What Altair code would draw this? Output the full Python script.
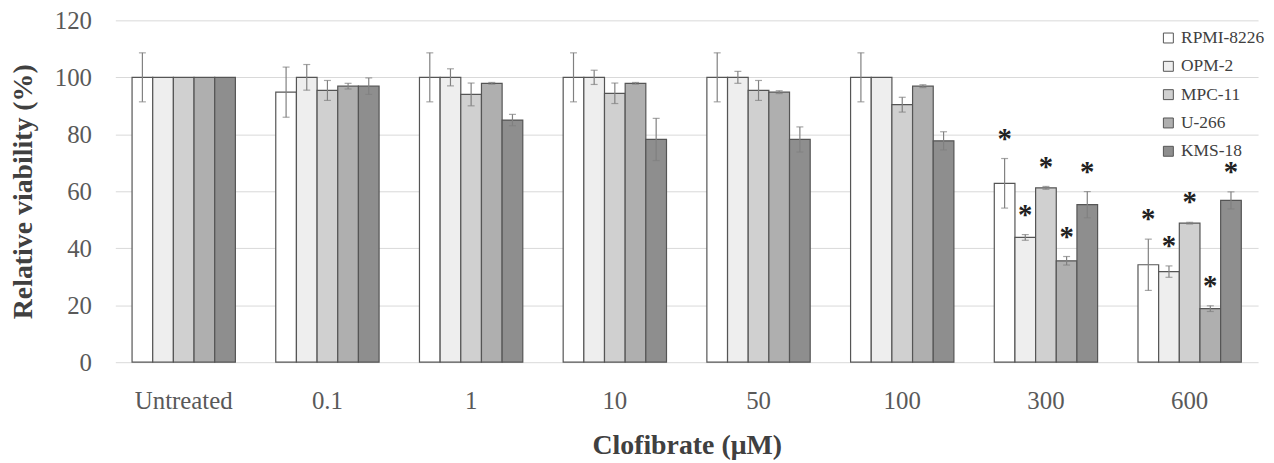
import altair as alt
import pandas as pd

concentrations = ["Untreated", "0.1", "1", "10", "50", "100", "300", "600"]
cell_lines = ["RPMI-8226", "OPM-2", "MPC-11", "U-266", "KMS-18"]
colors = ["#ffffff", "#eeeeee", "#d0d0d0", "#afafaf", "#8e8e8e"]

rpmi_mean = [100, 94.8, 100, 100, 100, 100, 62.8, 34.2]
rpmi_err = [8.6, 8.8, 8.6, 8.6, 8.6, 8.6, 8.7, 9.0]
opm_mean = [100, 100, 100, 100, 100, 100, 43.8, 31.8]
opm_err = [0, 4.5, 3.0, 2.5, 2.1, 0, 1.0, 2.0]
mpc_mean = [100, 95.4, 94.0, 94.4, 95.4, 90.4, 61.2, 48.8]
mpc_err = [0, 3.5, 4.0, 3.6, 3.5, 2.6, 0.5, 0.3]
u266_mean = [100, 96.9, 97.9, 97.9, 94.8, 96.9, 35.6, 18.8]
u266_err = [0, 1.0, 0.3, 0.3, 0.5, 0.5, 1.5, 1.0]
kms_mean = [100, 96.9, 85.0, 78.2, 78.2, 77.7, 55.3, 56.8]
kms_err = [0, 2.9, 2.0, 7.4, 4.4, 3.2, 4.6, 3.0]
significant = [False, False, False, False, False, False, True, True]

means = [rpmi_mean, opm_mean, mpc_mean, u266_mean, kms_mean]
errs = [rpmi_err, opm_err, mpc_err, u266_err, kms_err]

rows = []
for s, name in enumerate(cell_lines):
    for i, c in enumerate(concentrations):
        rows.append({"conc": c, "line": name, "mean": means[s][i],
                     "err": errs[s][i], "sig": significant[i]})
df = pd.DataFrame(rows)

FONT = "Liberation Serif"
YTITLE = "Relative viability (%)"

x = alt.X("conc:N", sort=concentrations,
          scale=alt.Scale(paddingInner=0.281, paddingOuter=0.1165),
          axis=alt.Axis(title="Clofibrate (μM)", labelAngle=0, labelFontSize=25,
                        labelPadding=27, ticks=False, domain=False, grid=False,
                        titlePadding=18))
xo = alt.XOffset("line:N", sort=cell_lines,
                 scale=alt.Scale(paddingInner=0, paddingOuter=0))
yscale = alt.Scale(domain=[0, 120])
yaxis = alt.Axis(values=[0, 20, 40, 60, 80, 100, 120], labelFontSize=25,
                 labelPadding=24, ticks=False, domain=False, grid=True,
                 titlePadding=17)

base = alt.Chart(df)

bars = base.mark_bar(stroke="#555555", strokeWidth=1.2).encode(
    x=x, xOffset=xo,
    y=alt.Y("mean:Q", scale=yscale, axis=yaxis, title=YTITLE),
    color=alt.Color("line:N", sort=cell_lines,
                    scale=alt.Scale(domain=cell_lines, range=colors),
                    legend=alt.Legend(title=None, orient="none", legendX=1051,
                                      legendY=9, symbolType="square",
                                      symbolSize=100, symbolStrokeColor="#555555",
                                      symbolStrokeWidth=1, labelFontSize=17.5,
                                      labelFont=FONT, labelColor="#404040",
                                      rowPadding=9.5, labelOffset=4, padding=0)),
)

errdata = base.transform_filter("datum.err > 0").transform_calculate(
    lo="datum.mean - datum.err", hi="datum.mean + datum.err")

rule = errdata.mark_rule(color="#808080", strokeWidth=1.2).encode(
    x=x, xOffset=xo,
    y=alt.Y("lo:Q", scale=yscale, title=YTITLE), y2="hi:Q")
cap_hi = errdata.mark_tick(color="#808080", thickness=1.2, size=7,
                           orient="horizontal").encode(
    x=x, xOffset=xo, y=alt.Y("hi:Q", scale=yscale, title=YTITLE))
cap_lo = errdata.mark_tick(color="#808080", thickness=1.2, size=7,
                           orient="horizontal").encode(
    x=x, xOffset=xo, y=alt.Y("lo:Q", scale=yscale, title=YTITLE))

stars = base.transform_filter("datum.sig").transform_calculate(
    top="datum.mean + datum.err").mark_text(
    text="*", font=FONT, fontSize=29, fontWeight="bold", color="#222222",
    baseline="alphabetic", dy=-11).encode(
    x=x, xOffset=xo, y=alt.Y("top:Q", scale=yscale, title=YTITLE))

chart = alt.layer(bars, rule, cap_hi, cap_lo, stars).properties(
    width=1150, height=344,
    autosize=alt.AutoSizeParams(type="none"),
    padding={"left": 108, "right": 8, "top": 11, "bottom": 100},
).configure_view(stroke=None).configure_axis(
    labelFont=FONT, titleFont=FONT, labelColor="#595959", titleColor="#404040",
    titleFontSize=28, titleFontWeight="bold", gridColor="#d9d9d9", gridWidth=1,
)

chart.save("out.html", embed_options={"renderer": "svg", "actions": False})
